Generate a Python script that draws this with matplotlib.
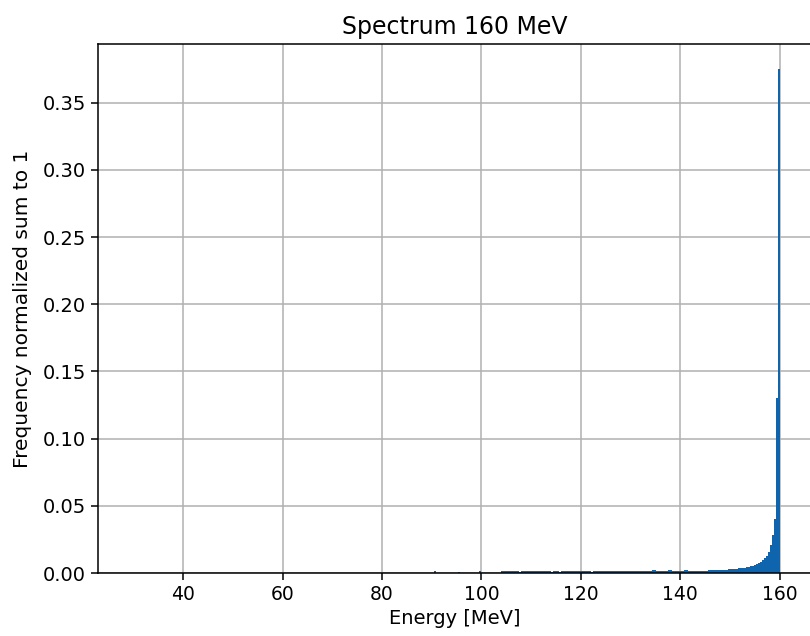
import matplotlib
matplotlib.use("Agg")
import matplotlib.pyplot as plt
import numpy as np

# Histogram bins: width 0.4 MeV
bin_width = 0.4

# isolated small bins (bin start energy, frequency)
isolated_starts = [90.4, 95.2, 99.6]
isolated_freq = [0.0013, 0.0011, 0.0012]

# contiguous bins from 104.0 MeV to 160.0 MeV
tail_start = 104.0
tail_freq = [
    # 104.0 - 107.6
    0.0012, 0.0013, 0.0012, 0.0012, 0.0013, 0.0012, 0.0013, 0.0012, 0.0012, 0.0008,
    # 108.0 - 111.6
    0.0012, 0.0013, 0.0012, 0.0012, 0.0013, 0.0012, 0.0012, 0.0013, 0.0012, 0.0012,
    # 112.0 - 115.6
    0.0013, 0.0012, 0.0012, 0.0012, 0.0013, 0.0008, 0.0012, 0.0012, 0.0013, 0.0008,
    # 116.0 - 119.6
    0.0012, 0.0013, 0.0012, 0.0012, 0.0012, 0.0013, 0.0012, 0.0012, 0.0013, 0.0012,
    # 120.0 - 123.6
    0.0012, 0.0013, 0.0012, 0.0012, 0.0012, 0.0008, 0.0012, 0.0013, 0.0012, 0.0012,
    # 124.0 - 127.6
    0.0013, 0.0012, 0.0012, 0.0013, 0.0012, 0.0012, 0.0013, 0.0012, 0.0012, 0.0013,
    # 128.0 - 131.6
    0.0012, 0.0013, 0.0013, 0.0012, 0.0013, 0.0013, 0.0012, 0.0013, 0.0013, 0.0013,
    # 132.0 - 134.0
    0.0013, 0.0013, 0.0013, 0.0013, 0.0013, 0.0013,
    # 134.4 - 135.2
    0.0020, 0.0020,
    # 135.2 - 137.2
    0.0014, 0.0014, 0.0014, 0.0015, 0.0015,
    # 137.2 - 139.2
    0.0018, 0.0020, 0.0020, 0.0018, 0.0016,
    # 139.2 - 140.8
    0.0015, 0.0015, 0.0016, 0.0016,
    # 140.8 - 141.6
    0.0024, 0.0024,
    # 141.6 - 146.4
    0.0016, 0.0016, 0.0017, 0.0017, 0.0016, 0.0017, 0.0018, 0.0017, 0.0018, 0.0018, 0.0019, 0.0019,
    # 146.4 - 148.4
    0.0024, 0.0025, 0.0025, 0.0024, 0.0024,
    # 148.4 - 149.2
    0.0021, 0.0021,
    # 149.2 - 151.6
    0.0026, 0.0027, 0.0027, 0.0028, 0.0029, 0.0030,
    # 151.6 - 153.2
    0.0036, 0.0037, 0.0038, 0.0040,
    # 153.2 - 155.2
    0.0046, 0.0048, 0.0052, 0.0055, 0.0058,
    # 155.2 - 156.4
    0.0070, 0.0076, 0.0084,
    # 156.4 - 157.6
    0.0097, 0.0110, 0.0124,
    # 157.6 - 160.0
    0.0160, 0.0210, 0.0280, 0.0400, 0.1300, 0.3750,
]

starts = list(isolated_starts) + [tail_start + bin_width * i for i in range(len(tail_freq))]
freqs = list(isolated_freq) + list(tail_freq)

fig = plt.figure(figsize=(8.1, 6.36), dpi=100)
ax = fig.add_axes([0.121, 0.099, 0.881, 0.832])

ax.bar(starts, freqs, width=bin_width, align="edge", color="#0f65ad", linewidth=0)

ax.set_xlim(22.9, 166.4)
ax.set_ylim(0, 0.3938)
ax.set_xticks([40, 60, 80, 100, 120, 140, 160])
ax.set_yticks([0.0, 0.05, 0.10, 0.15, 0.20, 0.25, 0.30, 0.35])
ax.yaxis.set_major_formatter(matplotlib.ticker.FormatStrFormatter("%.2f"))
ax.grid(True, color="#b0b0b0", linewidth=1.1)
ax.set_axisbelow(True)
for s in ax.spines.values():
    s.set_linewidth(1.1)
ax.tick_params(axis="x", labelsize=13.5, length=5, width=1.1)
ax.tick_params(axis="y", labelsize=14, length=5, width=1.1)

ax.set_title("Spectrum 160 MeV", fontsize=17, pad=7)
ax.set_xlabel("Energy [MeV]", fontsize=14, labelpad=4)
ax.set_ylabel("Frequency normalized sum to 1", fontsize=14.5, labelpad=8)

fig.savefig("out.png", dpi=100)
